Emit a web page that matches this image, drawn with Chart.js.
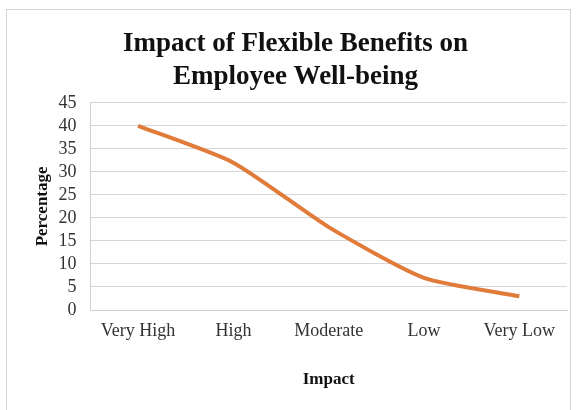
<!DOCTYPE html>
<html>
<head>
<meta charset="utf-8">
<script src="https://cdn.jsdelivr.net/npm/chart.js@4/dist/chart.umd.min.js"></script>
<style>
html,body{margin:0;padding:0;background:#fff;overflow:hidden;}
#frame{position:absolute;left:6px;top:9px;width:565px;height:420px;border:1px solid #d4d4d4;box-sizing:border-box;}
#wrap{position:absolute;left:0;top:0;width:576px;height:410px;}
</style>
</head>
<body>
<div id="frame"></div>
<div id="wrap"><canvas id="c" width="576" height="410"></canvas></div>
<script>
const categories = ["Very High", "High", "Moderate", "Low", "Very Low"];
const percentages = [40, 32, 18, 7, 3];
const yTicks = [0, 5, 10, 15, 20, 25, 30, 35, 40, 45];
const titleLines = ["Impact of Flexible Benefits on", "Employee Well-being"];

const serif = "'Liberation Serif', 'Times New Roman', serif";
new Chart(document.getElementById('c'), {
  type: 'line',
  data: {
    labels: categories,
    datasets: [{
      data: percentages,
      borderColor: '#E07B3A',
      borderWidth: 4,
      tension: 0.2,
      pointRadius: 0,
      fill: false
    }]
  },
  options: {
    responsive: false,
    animation: false,
    layout: { padding: { left: 24, right: 9, top: 28, bottom: 16 } },
    plugins: {
      legend: { display: false },
      tooltip: { enabled: false },
      title: {
        display: true,
        text: titleLines,
        color: '#111',
        font: { family: serif, size: 27, weight: 'bold', lineHeight: 1.2 },
        padding: { top: 0, bottom: 10 }
      }
    },
    scales: {
      x: {
        offset: true,
        grid: { display: false, drawTicks: false, offset: true },
        border: { color: '#cfcfcf', width: 1 },
        ticks: { color: '#333', font: { family: serif, size: 18 }, padding: 10, maxRotation: 0, autoSkip: false },
        title: { display: true, text: 'Impact', color: '#111', font: { family: serif, size: 17, weight: 'bold' }, padding: { top: 18 } }
      },
      y: {
        min: 0, max: 45,
        afterBuildTicks: (s) => { s.ticks = yTicks.map(v => ({ value: v })); },
        grid: { color: '#d6d6d6', lineWidth: 1, drawTicks: false },
        border: { color: '#cfcfcf', width: 1 },
        ticks: { color: '#333', font: { family: serif, size: 18 }, padding: 14, autoSkip: false },
        title: { display: true, text: 'Percentage', color: '#111', font: { family: serif, size: 17, weight: 'bold' }, padding: { top: 8, bottom: -8 } }
      }
    }
  }
});
</script>
</body>
</html>
